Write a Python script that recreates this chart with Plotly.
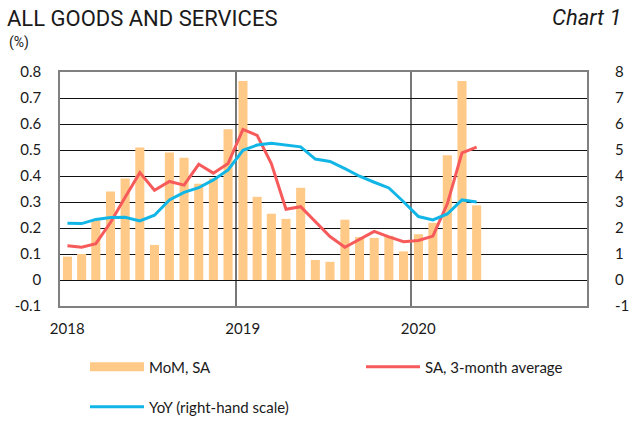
import numpy as np
import pandas as pd
import plotly.graph_objs as go

months = pd.date_range("2018-01-01", periods=29, freq="MS")

mom_sa = [0.09, 0.10, 0.23, 0.34, 0.39, 0.51, 0.135, 0.49, 0.47, 0.37,
          0.39, 0.58, 0.765, 0.32, 0.255, 0.235, 0.355, 0.077, 0.07, 0.232,
          0.165, 0.162, 0.17, 0.11, 0.176, 0.22, 0.48, 0.765, 0.287]

sa_3m_avg = [0.132, 0.126, 0.14, 0.221, 0.318, 0.413, 0.345, 0.379, 0.365, 0.445,
             0.411, 0.448, 0.579, 0.556, 0.448, 0.272, 0.282, 0.223, 0.167, 0.126,
             0.155, 0.187, 0.166, 0.147, 0.152, 0.169, 0.293, 0.489, 0.511]

yoy = [2.18, 2.17, 2.33, 2.40, 2.41, 2.27, 2.49, 3.08, 3.37, 3.55,
       3.85, 4.23, 4.99, 5.19, 5.26, 5.18, 5.12, 4.65, 4.56, 4.28,
       3.99, 3.76, 3.54, 3.01, 2.44, 2.31, 2.54, 3.08, 3.00]

left_ticks = [0.8, 0.7, 0.6, 0.5, 0.4, 0.3, 0.2, 0.1, 0, -0.1]
left_text = ["0.8", "0.7", "0.6", "0.5", "0.4", "0.3", "0.2", "0.1", "0", "-0.1"]
right_ticks = [8, 7, 6, 5, 4, 3, 2, 1, 0, -1]
right_text = ["8", "7", "6", "5", "4", "3", "2", "1", "0", "-1"]
year_ticks = ["2018-01-16", "2019-01-16", "2020-01-16"]
year_text = ["2018", "2019", "2020"]
year_bounds = ["2019-01-01", "2020-01-01"]

FONT = "Lato"


def legend_box(x_px, y_px):
    # one legend per entry, placed in pixels of the 630x421 page
    return dict(
        orientation="h",
        xref="container", x=x_px / 630, xanchor="left",
        yref="container", y=1 - y_px / 421, yanchor="middle",
        itemwidth=54,
        font=dict(family=FONT, size=15),
        bgcolor="rgba(0,0,0,0)"
    )


def generate_chart():

    fig = go.Figure()

    fig.add_trace(go.Bar(
        x=months,
        y=mom_sa,
        xperiod="M1",
        xperiodalignment="middle",
        marker=dict(color="#FFCA88", line=dict(width=0)),
        name="MoM, SA",
        showlegend=False
    ))

    # legend swatch for the bars (wide flat box like the original)
    fig.add_trace(go.Scatter(
        x=[None], y=[None],
        mode="lines",
        line=dict(color="#FFCA88", width=9),
        name="MoM, SA",
        legend="legend"
    ))

    fig.add_trace(go.Scatter(
        x=months,
        y=sa_3m_avg,
        xperiod="M1",
        xperiodalignment="middle",
        mode="lines",
        line=dict(color="#F65A5A", width=3),
        name="SA, 3-month average",
        legend="legend2"
    ))

    fig.add_trace(go.Scatter(
        x=months,
        y=yoy,
        xperiod="M1",
        xperiodalignment="middle",
        mode="lines",
        line=dict(color="#12B6E6", width=3),
        name="YoY (right-hand scale)",
        yaxis="y2",
        legend="legend3"
    ))

    fig.update_layout(
        width=630,
        height=421,
        margin=dict(l=60, r=43, t=72, b=115),
        bargap=0.36,
        plot_bgcolor="white",
        paper_bgcolor="white",
        font=dict(family=FONT, size=15, color="#1a1a1a"),
        title=dict(
            text="ALL GOODS AND SERVICES",
            font=dict(family="Roboto", size=22, color="#1a1a1a"),
            xref="container", x=7 / 630, xanchor="left",
            yref="container", y=1 - 18 / 421, yanchor="middle"
        ),
        xaxis=dict(
            type="date",
            range=["2018-01-01", "2021-01-01"],
            tickmode="array",
            tickvals=year_ticks,
            ticktext=year_text,
            ticks="",
            showgrid=False,
            showline=True,
            linecolor="#808080",
            linewidth=1.5,
            mirror=True,
            automargin=False,
            ticklabelstandoff=8,
            minor=dict(
                tickmode="array",
                tickvals=year_bounds,
                showgrid=True,
                gridcolor="#777777",
                gridwidth=2
            )
        ),
        yaxis=dict(
            range=[-0.1, 0.8],
            tickmode="array",
            tickvals=left_ticks,
            ticktext=left_text,
            ticks="",
            showgrid=True,
            gridcolor="#111111",
            gridwidth=1,
            zeroline=False,
            showline=True,
            linecolor="#808080",
            linewidth=1.5,
            mirror=True,
            automargin=False,
            ticklabelstandoff=14
        ),
        yaxis2=dict(
            range=[-1, 8],
            overlaying="y",
            side="right",
            tickmode="array",
            tickvals=right_ticks,
            ticktext=right_text,
            ticks="",
            showgrid=False,
            zeroline=False,
            automargin=False,
            ticklabelstandoff=27
        ),
        legend=legend_box(85, 367),
        legend2=legend_box(361, 367),
        legend3=legend_box(85, 407),
        annotations=[
            dict(text="(%)", xref="paper", yref="paper",
                 x=-0.1006, y=1.124, xanchor="left", yanchor="middle",
                 showarrow=False, font=dict(family="Roboto", size=14)),
            dict(text="<i>Chart 1</i>", xref="paper", yref="paper",
                 x=1.068, y=1.231, xanchor="right", yanchor="middle",
                 showarrow=False, font=dict(family="Roboto", size=22))
        ]
    )

    return fig


fig = generate_chart()
fig.write_html("out.html", config={"displayModeBar": False},
               post_script="document.body.style.margin = '0';")
